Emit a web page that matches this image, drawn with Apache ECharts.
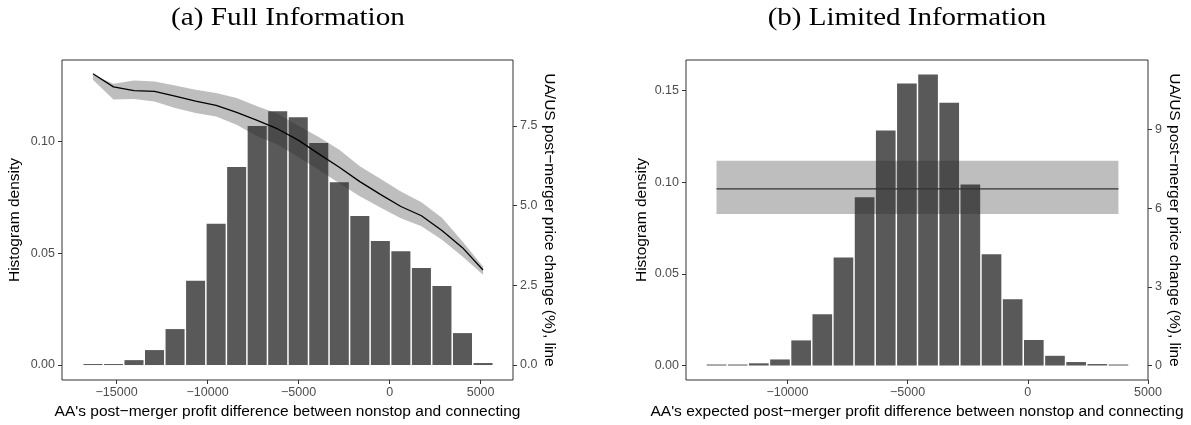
<!DOCTYPE html>
<html><head><meta charset="utf-8">
<script src="https://cdn.jsdelivr.net/npm/echarts@6/dist/echarts.min.js"></script>
<style>html,body{margin:0;padding:0;background:#fff}#c{width:1191px;height:425px}</style>
</head><body><div id="c"></div>
<script>
// ---- Panel (a): Full Information ----
const binCentersA = [-16300, -15172, -14044, -12916, -11788, -10660, -9532, -8404, -7276, -6148,
                     -5020, -3892, -2764, -1636, -508, 620, 1748, 2876, 4004, 5132];
const densityA = [0.0002, 0.0002, 0.0022, 0.0067, 0.0161, 0.0378, 0.0633, 0.0887, 0.1070, 0.1137,
                  0.1110, 0.0994, 0.0819, 0.0667, 0.0555, 0.0510, 0.0434, 0.0354, 0.0143, 0.0009];
const priceLineA = [9.13, 8.72, 8.60, 8.58, 8.43, 8.27, 8.14, 7.92, 7.67, 7.40,
                    7.05, 6.62, 6.20, 5.75, 5.35, 4.97, 4.68, 4.22, 3.68, 2.98];
const bandUpperA = [9.10, 8.82, 8.92, 8.89, 8.76, 8.63, 8.53, 8.37, 8.11, 7.88,
                    7.50, 7.15, 6.75, 6.23, 5.84, 5.44, 5.10, 4.62, 3.87, 3.09];
const bandLowerA = [8.94, 8.32, 8.34, 8.26, 8.06, 7.90, 7.79, 7.53, 7.17, 6.91,
                    6.52, 6.12, 5.70, 5.29, 4.94, 4.60, 4.35, 3.93, 3.40, 2.83];
const xTicksA = [-15000, -10000, -5000, 0, 5000];
const yTicksA = [0, 0.05, 0.10];
const y2TicksA = [0, 2.5, 5.0, 7.5];
const BIN_A = 1128;

// ---- Panel (b): Limited Information ----
const binCentersB = [-12950, -12070, -11190, -10310, -9430, -8550, -7670, -6790, -5910, -5030,
                     -4150, -3270, -2390, -1510, -630, 250, 1130, 2010, 2890, 3770];
const densityB = [0.0002, 0.0002, 0.0012, 0.0033, 0.0137, 0.0279, 0.0589, 0.0918, 0.1282, 0.1538,
                  0.1587, 0.1433, 0.0987, 0.0607, 0.0362, 0.0139, 0.0053, 0.0019, 0.0008, 0.0003];
const lineXB = [-12950, 3770];
const priceLineB = [6.74, 6.74];
const bandUpperB = [7.82, 7.82];
const bandLowerB = [5.78, 5.78];
const xTicksB = [-10000, -5000, 0, 5000];
const yTicksB = [0, 0.05, 0.10, 0.15];
const y2TicksB = [0, 3, 6, 9];
const BIN_B = 880;

const SANS = 'Liberation Sans';
const fmtX = v => (v < 0 ? '\u2212' + Math.abs(v) : String(v));

function barSeries(gi, centers, dens, bin) {
  return {
    type: 'custom', xAxisIndex: gi, yAxisIndex: gi * 2, z: 1, silent: true,
    data: centers.map((c, i) => [c, dens[i]]),
    encode: { x: 0, y: 1 },
    renderItem: (params, api) => {
      const c = api.value(0), v = api.value(1);
      const tl = api.coord([c - bin / 2, v]);
      const br = api.coord([c + bin / 2, 0]);
      let h = br[1] - tl[1];
      if (h < 1) h = 1;
      return { type: 'rect', shape: { x: tl[0] + 0.75, y: br[1] - h, width: br[0] - tl[0] - 1.5, height: h },
               style: { fill: '#595959' } };
    }
  };
}
function bandSeries(gi, xs, lo, hi) {
  return {
    type: 'custom', xAxisIndex: gi, yAxisIndex: gi * 2 + 1, z: 2, silent: true,
    data: xs.map((x, i) => [x, lo[i], hi[i]]),
    encode: { x: 0, y: [1, 2] },
    renderItem: (params, api) => {
      if (params.dataIndex !== 0) return null;
      const pts = [];
      for (let i = 0; i < xs.length; i++) pts.push(api.coord([xs[i], hi[i]]));
      for (let i = xs.length - 1; i >= 0; i--) pts.push(api.coord([xs[i], lo[i]]));
      return { type: 'polygon', shape: { points: pts }, style: { fill: 'rgba(40,40,40,0.3)' } };
    }
  };
}
function lineSeries(gi, xs, ys, color) {
  return {
    type: 'line', xAxisIndex: gi, yAxisIndex: gi * 2 + 1, z: 3, silent: true,
    data: xs.map((x, i) => [x, ys[i]]), showSymbol: false, symbol: 'none',
    lineStyle: { color: color, width: 1.3 }
  };
}
const tickStyle = { show: true, length: 4, lineStyle: { color: '#333', width: 1 } };
const lblStyle = { color: '#4d4d4d', fontSize: 12.5, fontFamily: SANS };
const nameStyle = { color: '#000', fontSize: 15.5, fontFamily: SANS };

function xAxis(gi, min, max, ticks, name) {
  return {
    gridIndex: gi, type: 'value', min: min, max: max,
    splitLine: { show: false }, axisLine: { show: false, onZero: false },
    axisTick: Object.assign({ customValues: ticks }, tickStyle),
    axisLabel: Object.assign({ customValues: ticks, formatter: fmtX, margin: 6 }, lblStyle),
    name: name, nameLocation: 'middle', nameGap: 22, nameTextStyle: nameStyle
  };
}
function yAxis(gi, pos, min, max, ticks, fmt, name, gap) {
  return {
    gridIndex: gi, type: 'value', position: pos, min: min, max: max,
    splitLine: { show: false }, axisLine: { show: false, onZero: false },
    axisTick: Object.assign({ customValues: ticks }, tickStyle),
    axisLabel: Object.assign({ customValues: ticks, formatter: fmt, margin: 7 }, lblStyle),
    name: name, nameLocation: 'middle', nameGap: gap, nameRotate: pos === 'left' ? 90 : -90,
    nameTextStyle: nameStyle
  };
}
const gridBase = { show: true, borderColor: '#333', borderWidth: 1, backgroundColor: 'transparent',
                   containLabel: false, outerBoundsMode: 'none' };

const chart = echarts.init(document.getElementById('c'), null, { renderer: 'canvas' });
chart.setOption({
  animation: false,
  backgroundColor: '#fff',
  grid: [
    Object.assign({ left: 62, top: 60, width: 451, height: 320 }, gridBase),
    Object.assign({ left: 686, top: 60, width: 462, height: 320 }, gridBase)
  ],
  xAxis: [
    xAxis(0, -18000, 6780, xTicksA, "AA's post\u2212merger profit difference between nonstop and connecting"),
    xAxis(1, -14220, 5000, xTicksB, "AA's expected post\u2212merger profit difference between nonstop and connecting")
  ],
  yAxis: [
    yAxis(0, 'left', -0.0067, 0.1366, yTicksA, v => v.toFixed(2), 'Histogram density', 39),
    yAxis(0, 'right', -0.469, 9.562, y2TicksA, v => v.toFixed(1), 'UA/US post\u2212merger price change (%), line', 18),
    yAxis(1, 'left', -0.0079, 0.1666, yTicksB, v => v.toFixed(2), 'Histogram density', 36),
    yAxis(1, 'right', -0.553, 11.662, y2TicksB, v => String(v), 'UA/US post\u2212merger price change (%), line', 14)
  ],
  graphic: [
    { type: 'text', x: 288, y: 18, scaleX: 1.17, style: { text: '(a) Full Information', font: '25px "Liberation Serif"',
      fill: '#000', align: 'center', verticalAlign: 'middle', textAlign: 'center', textVerticalAlign: 'middle' } },
    { type: 'text', x: 907, y: 18, scaleX: 1.16, style: { text: '(b) Limited Information', font: '25px "Liberation Serif"',
      fill: '#000', align: 'center', verticalAlign: 'middle', textAlign: 'center', textVerticalAlign: 'middle' } }
  ],
  series: [
    barSeries(0, binCentersA, densityA, BIN_A),
    bandSeries(0, binCentersA, bandLowerA, bandUpperA),
    lineSeries(0, binCentersA, priceLineA, '#000'),
    barSeries(1, binCentersB, densityB, BIN_B),
    bandSeries(1, lineXB, bandLowerB, bandUpperB),
    lineSeries(1, lineXB, priceLineB, '#333')
  ]
});
</script>
</body></html>
